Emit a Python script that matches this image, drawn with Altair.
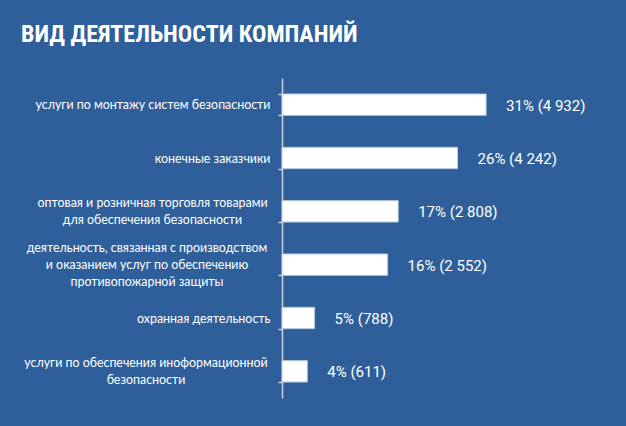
import altair as alt
import pandas as pd

categories = [
    ["услуги по монтажу систем безопасности"],
    ["конечные заказчики"],
    ["оптовая и розничная торговля товарами", "для обеспечения безопасности"],
    ["деятельность, связанная с производством", "и оказанием услуг по обеспечению", "противопожарной защиты"],
    ["охранная деятельность"],
    ["услуги по обеспечения иноформационной", "безопасности"],
]
counts = [4932, 4242, 2808, 2552, 788, 611]
percents = [31, 26, 17, 16, 5, 4]
count_labels = ["4 932", "4 242", "2 808", "2 552", "788", "611"]

# layout styling: approximate width (px) of the widest line of each multi-line label
label_block_width = [236, 120, 236, 247, 136, 249]

keys = [" ".join(c) for c in categories]

df = pd.DataFrame({
    "cat": keys,
    "count": counts,
    "label": [f"{p}% ({c})" for p, c in zip(percents, count_labels)],
})

bg = "#2f5f9b"
line_h = 17
base_pad = 8


def q(s):
    return "'" + s.replace("'", "\\'") + "'"


expr_parts = []
for k, lines in zip(keys, categories):
    arr = "[" + ",".join(q(l) for l in lines) + "]"
    expr_parts.append(f"datum.value == {q(k)} ? {arr}")
label_expr = " : ".join(expr_parts) + " : datum.value"

offset_conds = []
pad_conds = []
align_conds = []
for k, lines, w in zip(keys, categories, label_block_width):
    n = len(lines)
    if n > 1:
        test = f"datum.value == {q(k)}"
        offset_conds.append({"test": test, "value": -(n - 1) * line_h / 2})
        pad_conds.append({"test": test, "value": base_pad + w / 2})
        align_conds.append({"test": test, "value": "center"})

y_enc = alt.Y(
    "cat:N",
    sort=keys,
    title=None,
    scale=alt.Scale(paddingInner=0.6, paddingOuter=0.3),
    axis=alt.Axis(
        labelExpr=label_expr,
        labelColor="white",
        labelFont="Lato",
        labelFontSize=12.4,
        labelAlign={"condition": align_conds, "value": "right"},
        labelPadding={"condition": pad_conds, "value": base_pad},
        labelOffset={"condition": offset_conds, "value": 0},
        labelLineHeight=line_h,
        labelLimit=300,
        domainColor="#c9d3e0",
        domainWidth=1.5,
        tickColor="#c9d3e0",
        tickSize=4,
        tickBand="extent",
        tickWidth=1.5,
        grid=False,
    ),
)

x_enc = alt.X("count:Q", scale=alt.Scale(domain=[0, 7250]), axis=None)

bars = alt.Chart(df).mark_bar(
    color="white", stroke="#b9c8dc", strokeWidth=1
).encode(x=x_enc, y=y_enc)

text = alt.Chart(df).mark_text(
    align="left", baseline="middle", dx=20, dy=1,
    color="white", font="Roboto", fontSize=15,
).encode(x=x_enc, y=alt.Y("cat:N", sort=keys), text="label:N")

chart = (bars + text).properties(
    width=300,
    height=320,
    background=bg,
    padding={"left": 282, "top": 78, "right": 44, "bottom": 28},
    autosize=alt.AutoSizeParams(type="none"),
    title=alt.TitleParams(
        "ВИД ДЕЯТЕЛЬНОСТИ КОМПАНИЙ",
        anchor="start",
        frame="group",
        dx=-261,
        offset=25,
        font="Roboto Condensed, Liberation Sans Narrow, DejaVu Sans Condensed, Roboto",
        fontSize=24,
        fontWeight="bold",
        color="white",
    ),
).configure_view(stroke=None)

chart.save("out.html", embed_options={"renderer": "svg", "actions": False})
